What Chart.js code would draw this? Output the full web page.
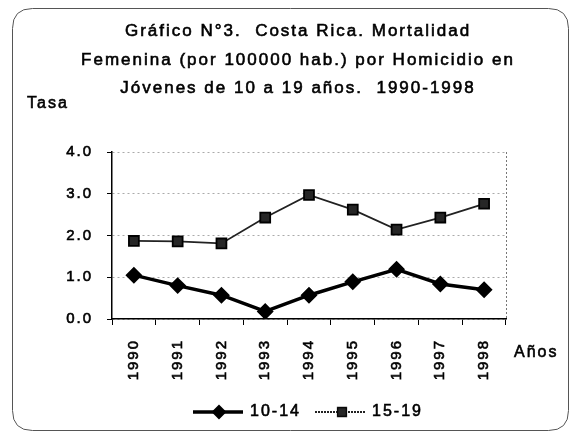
<!DOCTYPE html>
<html>
<head>
<meta charset="utf-8">
<script src="https://cdn.jsdelivr.net/npm/chart.js@4/dist/chart.umd.min.js"></script>
<style>
  html, body { margin: 0; padding: 0; background: #fff; }
  #wrap { width: 573px; height: 435px; position: relative; }
</style>
</head>
<body>
<div id="wrap"><canvas id="chart"></canvas></div>
<script>
// datos
const years = ['1990', '1991', '1992', '1993', '1994', '1995', '1996', '1997', '1998'];
const tasa1014 = [1.05, 0.80, 0.57, 0.18, 0.57, 0.89, 1.19, 0.84, 0.70];
const tasa1519 = [1.87, 1.86, 1.81, 2.43, 2.97, 2.62, 2.14, 2.43, 2.76];
const seriesNames = ['10-14', '15-19'];
const titleLines = [
    'Gráfico N°3.  Costa Rica. Mortalidad',
    'Femenina (por 100000 hab.) por Homicidio en',
    'Jóvenes de 10 a 19 años.  1990-1998'
];
const yTitle = 'Tasa';
const xTitle = 'Años';

const FONT = '"Liberation Sans", Arial, sans-serif';
const INK = '#000';

// espaciado de letras como en el original escaneado
const spacingPlugin = {
    id: 'spacing',
    beforeUpdate(chart) { chart.ctx.letterSpacing = '2px'; },
    beforeDraw(chart) { chart.ctx.letterSpacing = '2px'; }
};

function roundRect(ctx, x, y, w, h, r) {
    ctx.beginPath();
    ctx.moveTo(x + r, y);
    ctx.lineTo(x + w - r, y);
    ctx.quadraticCurveTo(x + w, y, x + w, y + r);
    ctx.lineTo(x + w, y + h - r);
    ctx.quadraticCurveTo(x + w, y + h, x + w - r, y + h);
    ctx.lineTo(x + r, y + h);
    ctx.quadraticCurveTo(x, y + h, x, y + h - r);
    ctx.lineTo(x, y + r);
    ctx.quadraticCurveTo(x, y, x + r, y);
    ctx.closePath();
}

function inkText(ctx, t, x, y) {
    ctx.fillText(t, x, y);
    ctx.strokeText(t, x, y);
}

const decorPlugin = {
    id: 'decor',
    beforeDraw(chart) {
        const ctx = chart.ctx;
        ctx.save();
        ctx.strokeStyle = '#555';
        ctx.lineWidth = 1;
        roundRect(ctx, 12.5, 8.5, 556, 422, 20);
        ctx.stroke();
        ctx.restore();
    },
    afterDraw(chart) {
        const ctx = chart.ctx;
        const area = chart.chartArea;
        ctx.save();
        ctx.letterSpacing = '2px';
        ctx.fillStyle = INK;
        ctx.strokeStyle = INK;
        ctx.lineWidth = 0.6;
        ctx.textBaseline = 'middle';

        // título
        ctx.font = '17px ' + FONT;
        ctx.textAlign = 'center';
        const ys = [31, 60, 88];
        titleLines.forEach((t, i) => inkText(ctx, t, 298, ys[i]));

        // títulos de ejes
        ctx.font = '16px ' + FONT;
        ctx.textAlign = 'left';
        inkText(ctx, yTitle, 27, 104);
        inkText(ctx, xTitle, 514, 353);

        // borde derecho punteado del área
        ctx.strokeStyle = '#777';
        ctx.lineWidth = 1;
        ctx.setLineDash([2, 2]);
        ctx.beginPath();
        ctx.moveTo(area.right + 0.5, area.top);
        ctx.lineTo(area.right + 0.5, area.bottom);
        ctx.stroke();
        ctx.setLineDash([]);

        // leyenda
        const ly = 412;
        const items = [
            { x0: 193, x1: 243, px: 219, tx: 250, dash: [] },
            { x0: 315, x1: 365, px: 342, tx: 372, dash: [2, 1] }
        ];
        chart.data.datasets.forEach((ds, i) => {
            const it = items[i];
            ctx.strokeStyle = ds.borderColor;
            ctx.lineWidth = ds.borderWidth;
            ctx.setLineDash(it.dash);
            ctx.beginPath();
            ctx.moveTo(it.x0, ly);
            ctx.lineTo(it.x1, ly);
            ctx.stroke();
            ctx.setLineDash([]);
            Chart.helpers.drawPoint(ctx, {
                pointStyle: ds.pointStyle,
                radius: ds.pointRadius - 1,
                borderWidth: 1,
                rotation: 0
            }, it.px, ly);
            ctx.fillStyle = ds.pointBackgroundColor;
            ctx.strokeStyle = ds.pointBorderColor;
            ctx.lineWidth = 1;
            ctx.fill();
            ctx.stroke();
            ctx.fillStyle = INK;
            ctx.strokeStyle = INK;
            ctx.lineWidth = 0.6;
            ctx.font = '16px ' + FONT;
            ctx.textAlign = 'left';
            inkText(ctx, seriesNames[i], it.tx, ly);
        });
        ctx.restore();
    }
};

const ctx = document.getElementById('chart').getContext('2d');
new Chart(ctx, {
    type: 'line',
    data: {
        labels: years,
        datasets: [{
            label: seriesNames[0],
            data: tasa1014,
            borderColor: '#000',
            borderWidth: 3.5,
            pointStyle: 'rectRot',
            pointRadius: 6,
            pointBackgroundColor: '#000',
            pointBorderColor: '#000',
            tension: 0
        }, {
            label: seriesNames[1],
            data: tasa1519,
            borderColor: '#222',
            borderWidth: 1.8,
            pointStyle: 'rect',
            pointRadius: 7,
            pointBackgroundColor: '#262626',
            pointBorderColor: '#000',
            tension: 0
        }]
    },
    options: {
        responsive: true,
        maintainAspectRatio: false,
        animation: false,
        layout: { padding: { left: 10, top: 152, right: 67, bottom: 0 } },
        plugins: {
            legend: { display: false },
            title: { display: false },
            tooltip: { enabled: false }
        },
        scales: {
            x: {
                offset: true,
                afterFit: (s) => { s.height = 116; },
                grid: {
                    offset: true,
                    drawOnChartArea: false,
                    drawTicks: true,
                    tickLength: 6,
                    color: '#000'
                },
                border: { color: '#000', width: 1.5 },
                ticks: {
                    autoSkip: false,
                    minRotation: 90,
                    maxRotation: 90,
                    padding: 14,
                    color: INK,
                    textStrokeColor: INK,
                    textStrokeWidth: 0.6,
                    font: { family: FONT, size: 15 }
                }
            },
            y: {
                min: 0,
                max: 4,
                afterFit: (s) => { s.width = 102; },
                grid: {
                    color: '#aaa',
                    tickColor: '#000',
                    tickLength: 5,
                    tickBorderDash: [1, 0],
                    drawTicks: true
                },
                border: { color: '#000', width: 1.5, dash: [2, 3] },
                ticks: {
                    stepSize: 1,
                    padding: 14,
                    color: INK,
                    textStrokeColor: INK,
                    textStrokeWidth: 0.6,
                    font: { family: FONT, size: 15 },
                    callback: (v) => v.toFixed(1)
                }
            }
        }
    },
    plugins: [spacingPlugin, decorPlugin]
});
</script>
</body>
</html>
